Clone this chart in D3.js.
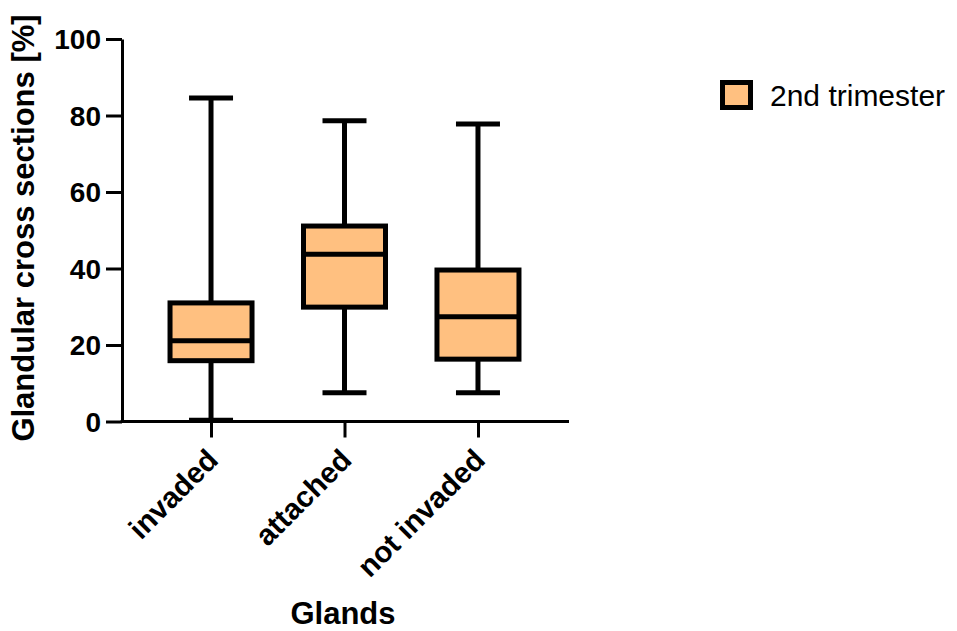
<!DOCTYPE html>
<html><head><meta charset="utf-8">
<script src="https://cdn.jsdelivr.net/npm/d3@7"></script>
<style>body{margin:0;background:#fff}svg{display:block}text{font-family:"Liberation Sans",Arial,sans-serif}</style>
</head><body><svg id="c" width="957" height="631"></svg>
<script>
const categories = ["invaded", "attached", "not invaded"];
const mins    = [0.3, 7.5, 7.5];
const q1s     = [15.9, 29.9, 16.3];
const medians = [21.1, 43.7, 27.4];
const q3s     = [31.0, 51.1, 39.6];
const maxs    = [84.6, 78.6, 77.8];
const yTicks  = [0, 20, 40, 60, 80, 100];
const seriesName = "2nd trimester";

const svg = d3.select("#c");
const fill = "#FFC080";
const x = d3.scalePoint().domain(categories).range([122, 567]).padding(0.667);
const y = d3.scaleLinear().domain([0, 100]).range([421.5, 39]);

// axes
const yAxis = svg.append("g").attr("transform","translate(122,0)")
  .call(d3.axisLeft(y).tickValues(yTicks).tickSize(16).tickSizeOuter(0).tickPadding(5));
yAxis.select(".domain").attr("stroke","#000").attr("stroke-width",3);
yAxis.selectAll(".tick line").attr("stroke","#000").attr("stroke-width",3);
yAxis.selectAll(".tick text").attr("font-size",28).attr("font-weight","bold").attr("fill","#000").attr("dy","0.35em");

const xAxis = svg.append("g").attr("transform","translate(0,421.5)")
  .call(d3.axisBottom(x).tickSize(16).tickSizeOuter(0).tickPadding(4));
xAxis.select(".domain").attr("stroke","#000").attr("stroke-width",3).attr("d","M120.5,0H569");
xAxis.selectAll(".tick line").attr("stroke","#000").attr("stroke-width",3);
xAxis.selectAll(".tick text").attr("font-size",29.5).attr("font-weight","bold").attr("fill","#000")
  .attr("text-anchor","end").attr("dy","0.35em")
  .attr("transform","translate(1,33) rotate(-45)").attr("x",0).attr("y",0);

// boxes
const data = categories.map((c,i)=>({c,min:mins[i],q1:q1s[i],med:medians[i],q3:q3s[i],max:maxs[i]}));
const bw = 82, cw = 44, sw = 5;
const g = svg.append("g");
data.forEach(d=>{
  const cx = x(d.c);
  g.append("line").attr("x1",cx).attr("x2",cx).attr("y1",y(d.max)).attr("y2",y(d.min)).attr("stroke","#000").attr("stroke-width",sw);
  g.append("line").attr("x1",cx-cw/2).attr("x2",cx+cw/2).attr("y1",y(d.max)).attr("y2",y(d.max)).attr("stroke","#000").attr("stroke-width",sw);
  g.append("line").attr("x1",cx-cw/2).attr("x2",cx+cw/2).attr("y1",y(d.min)).attr("y2",y(d.min)).attr("stroke","#000").attr("stroke-width",sw);
  g.append("rect").attr("x",cx-bw/2).attr("width",bw).attr("y",y(d.q3)).attr("height",y(d.q1)-y(d.q3))
    .attr("fill",fill).attr("stroke","#000").attr("stroke-width",sw);
  g.append("line").attr("x1",cx-bw/2).attr("x2",cx+bw/2).attr("y1",y(d.med)).attr("y2",y(d.med)).attr("stroke","#000").attr("stroke-width",sw);
});

// titles
svg.append("text").attr("x",343).attr("y",624).attr("text-anchor","middle").attr("font-size",31).attr("font-weight","bold").text("Glands");
svg.append("text").attr("transform","translate(34,228) rotate(-90)").attr("text-anchor","middle").attr("font-size",31).attr("font-weight","bold").text("Glandular cross sections [%]");

// legend
svg.append("rect").attr("x",722.5).attr("y",82.5).attr("width",28).attr("height",25).attr("fill",fill).attr("stroke","#000").attr("stroke-width",5);
svg.append("text").attr("x",770).attr("y",106).attr("font-size",30).attr("fill","#000").text(seriesName);
</script></body></html>
